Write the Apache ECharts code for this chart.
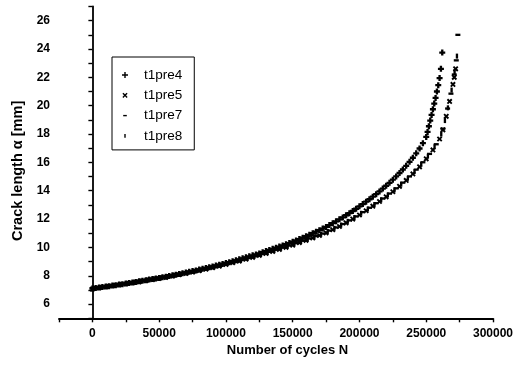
<!DOCTYPE html>
<html>
<head>
<meta charset="utf-8">
<script src="https://cdn.jsdelivr.net/npm/echarts@6/dist/echarts.min.js"></script>
<style>
html,body{margin:0;padding:0;background:#fff;}
#chart{width:520px;height:366px;}
</style>
</head>
<body>
<div id="chart"></div>
<script>
// Number of cycles N, crack length a [mm]
const t1pre4 = [[0,7.10],[2500,7.13],[5000,7.17],[7500,7.20],[10000,7.24],[12500,7.27],[15000,7.31],[17500,7.34],[20000,7.38],[22500,7.41],[25000,7.45],[27500,7.49],[30000,7.53],[32500,7.57],[35000,7.61],[37500,7.65],[40000,7.69],[42500,7.73],[45000,7.77],[47500,7.81],[50000,7.85],[52500,7.89],[55000,7.94],[57500,7.98],[60000,8.03],[62500,8.08],[65000,8.13],[67500,8.18],[70000,8.23],[72500,8.28],[75000,8.33],[77500,8.38],[80000,8.44],[82500,8.49],[85000,8.55],[87500,8.60],[90000,8.66],[92500,8.72],[95000,8.78],[97500,8.84],[100000,8.90],[102500,8.96],[105000,9.03],[107500,9.09],[110000,9.16],[112500,9.23],[115000,9.30],[117500,9.37],[120000,9.44],[122500,9.51],[125000,9.58],[127500,9.66],[130000,9.74],[132500,9.82],[135000,9.90],[137500,9.98],[140000,10.06],[142500,10.14],[145000,10.23],[147500,10.31],[150000,10.40],[152500,10.49],[155000,10.59],[157500,10.69],[160000,10.79],[162500,10.89],[165000,11.00],[167500,11.11],[170000,11.22],[172500,11.33],[175000,11.45],[177500,11.58],[180000,11.71],[182500,11.84],[185000,11.98],[187500,12.12],[190000,12.27],[192500,12.42],[195000,12.57],[197500,12.73],[200000,12.90],[202500,13.06],[205000,13.23],[207500,13.40],[210000,13.58],[212500,13.76],[215000,13.95],[217500,14.15],[220000,14.35],[222500,14.56],[225000,14.78],[227500,15.01],[230000,15.25],[232500,15.50],[235000,15.76],[237500,16.04],[240000,16.33],[242500,16.64],[245000,16.98],[247500,17.36],[250000,17.80],[251000,18.15],[252000,18.55],[253000,18.95],[254000,19.35],[255000,19.75],[256000,20.15],[257000,20.55],[258000,21.00],[259000,21.45],[260000,21.95],[261000,22.60],[262000,23.75]];

const t1pre5 = [[0,7.06],[5000,7.14],[10000,7.21],[15000,7.28],[20000,7.35],[25000,7.42],[30000,7.49],[35000,7.57],[40000,7.65],[45000,7.73],[50000,7.81],[55000,7.89],[60000,7.98],[65000,8.07],[70000,8.16],[75000,8.26],[80000,8.36],[85000,8.46],[90000,8.57],[95000,8.68],[100000,8.80],[105000,8.92],[110000,9.04],[115000,9.17],[120000,9.30],[125000,9.44],[130000,9.57],[135000,9.72],[140000,9.86],[145000,10.01],[150000,10.16],[155000,10.34],[160000,10.50],[165000,10.67],[170000,10.84],[175000,11.03],[180000,11.25],[185000,11.48],[190000,11.73],[195000,12.00],[200000,12.29],[205000,12.59],[210000,12.91],[215000,13.24],[220000,13.57],[225000,13.93],[230000,14.31],[235000,14.73],[240000,15.19],[245000,15.69],[250000,16.25],[255000,16.88],[260000,17.65],[262500,18.30],[265000,19.25],[267500,20.30],[270000,21.50],[271000,22.00],[272000,22.60]];

const t1pre7 = [[2500,7.15],[7500,7.22],[12500,7.29],[17500,7.36],[22500,7.43],[27500,7.50],[32500,7.58],[37500,7.66],[42500,7.74],[47500,7.81],[52500,7.90],[57500,7.98],[62500,8.07],[67500,8.16],[72500,8.26],[77500,8.36],[82500,8.46],[87500,8.57],[92500,8.68],[97500,8.79],[102500,8.91],[107500,9.03],[112500,9.15],[117500,9.28],[122500,9.42],[127500,9.55],[132500,9.69],[137500,9.84],[142500,9.99],[147500,10.13],[152500,10.30],[157500,10.47],[162500,10.63],[167500,10.80],[172500,10.98],[177500,11.19],[182500,11.41],[187500,11.65],[192500,11.91],[197500,12.19],[202500,12.49],[207500,12.80],[212500,13.12],[217500,13.45],[222500,13.80],[227500,14.17],[232500,14.57],[237500,15.01],[242500,15.49],[247500,16.01],[252500,16.60],[257500,17.28],[262500,18.38],[266000,19.80],[268500,20.85],[271000,22.20],[272500,23.20],[273700,25.00]];

const t1pre8 = [[1250,7.12],[6250,7.19],[11250,7.26],[16250,7.33],[21250,7.40],[26250,7.47],[31250,7.55],[36250,7.63],[41250,7.71],[46250,7.79],[51250,7.87],[56250,7.95],[61250,8.04],[66250,8.13],[71250,8.22],[76250,8.32],[81250,8.42],[86250,8.53],[91250,8.64],[96250,8.75],[101250,8.87],[106250,8.99],[111250,9.11],[116250,9.24],[121250,9.37],[126250,9.51],[131250,9.64],[136250,9.79],[141250,9.94],[146250,10.09],[151250,10.25],[156250,10.42],[161250,10.58],[166250,10.75],[171250,10.93],[176250,11.13],[181250,11.35],[186250,11.58],[191250,11.84],[196250,12.11],[201250,12.41],[206250,12.71],[211250,13.03],[216250,13.36],[221250,13.70],[226250,14.06],[231250,14.46],[236250,14.88],[241250,15.35],[246250,15.86],[251250,16.44],[256250,17.10],[261250,18.00],[264000,18.95],[266250,19.85],[269000,21.10],[271250,22.40],[273000,23.50]];

const seriesNames = ['t1pre4', 't1pre5', 't1pre7', 't1pre8'];
const seriesData = [t1pre4, t1pre5, t1pre7, t1pre8];

// legend marker shapes (12x12 box, invisible corner moves keep the box)
const LEG = [
  'path://M0,0M12,12M5.3,3H6.7V5.3H9V6.7H6.7V9H5.3V6.7H3V5.3H5.3Z',
  'path://M0,0M12,12M3.4,4.4L4.4,3.4L6,5L7.6,3.4L8.6,4.4L7,6L8.6,7.6L7.6,8.6L6,7L4.4,8.6L3.4,7.6L5,6Z',
  'path://M0,0M12,12M4.2,5.3H7.8V6.7H4.2Z',
  'path://M0,0M12,12M5.3,4.2H6.7V7.8H5.3Z'
];
// plot marker shapes (bolder, like the scanned figure)
const MRK = [
  'path://M0,0M12,12M4.6,2.4H7.4V4.6H9.6V7.4H7.4V9.6H4.6V7.4H2.4V4.6H4.6Z',
  'path://M0,0M12,12M2.6,4.2L4.2,2.6L6,4.4L7.8,2.6L9.4,4.2L7.6,6L9.4,7.8L7.8,9.4L6,7.6L4.2,9.4L2.6,7.8L4.4,6Z',
  'path://M0,0M12,12M3,4.6H9V7.4H3Z',
  'path://M0,0M12,12M4.6,3H7.4V9H4.6Z'
];

const FONT = 'Liberation Sans, Arial, sans-serif';
const chart = echarts.init(document.getElementById('chart'), null, {renderer: 'canvas'});

chart.setOption({
  animation: false,
  backgroundColor: '#ffffff',
  grid: {left: 59, right: 27, top: 6.5, bottom: 47.7, containLabel: false},
  legend: {
    orient: 'vertical',
    left: 112, top: 57,
    padding: [11, 12, 7, 7],
    itemWidth: 28, itemHeight: 12, itemGap: 6.3,
    borderColor: '#000', borderWidth: 1,
    textStyle: {fontFamily: FONT, fontSize: 13.5, color: '#000'},
    data: seriesNames.map((n, i) => ({name: n, icon: LEG[i]}))
  },
  xAxis: {
    type: 'value',
    min: -25000, max: 300000, interval: 25000,
    name: 'Number of cycles N',
    nameLocation: 'middle', nameGap: 25,
    nameTextStyle: {fontFamily: FONT, fontSize: 13, fontWeight: 'bold', color: '#000', padding: [0, 0, 0, 23]},
    axisLine: {lineStyle: {color: '#000', width: 1.8}},
    axisTick: {length: 4, lineStyle: {color: '#000', width: 1.4}},
    axisLabel: {
      fontFamily: FONT, fontSize: 12, fontWeight: 'bold', color: '#000', margin: 9,
      formatter: v => (v % 50000 === 0 ? String(v) : '')
    },
    splitLine: {show: false}
  },
  yAxis: {
    type: 'value',
    min: 5, max: 27, interval: 1,
    name: 'Crack length \u03b1 [mm]',
    nameLocation: 'middle', nameGap: 34, nameRotate: 90,
    nameTextStyle: {fontFamily: FONT, fontSize: 14.5, fontWeight: 'bold', color: '#000', padding: [0, 17, 0, 0]},
    axisLine: {lineStyle: {color: '#000', width: 1.8}},
    axisTick: {length: 4, lineStyle: {color: '#000', width: 1.4}},
    axisLabel: {
      fontFamily: FONT, fontSize: 12, fontWeight: 'bold', color: '#000', margin: 9,
      formatter: v => (v % 2 === 0 ? String(v) : '')
    },
    splitLine: {show: false}
  },
  series: seriesNames.map((n, i) => ({
    name: n,
    type: 'scatter',
    data: seriesData[i],
    symbol: MRK[i],
    symbolSize: 10,
    itemStyle: {color: '#000', opacity: 1},
    emphasis: {disabled: true}
  }))
});
</script>
</body>
</html>
